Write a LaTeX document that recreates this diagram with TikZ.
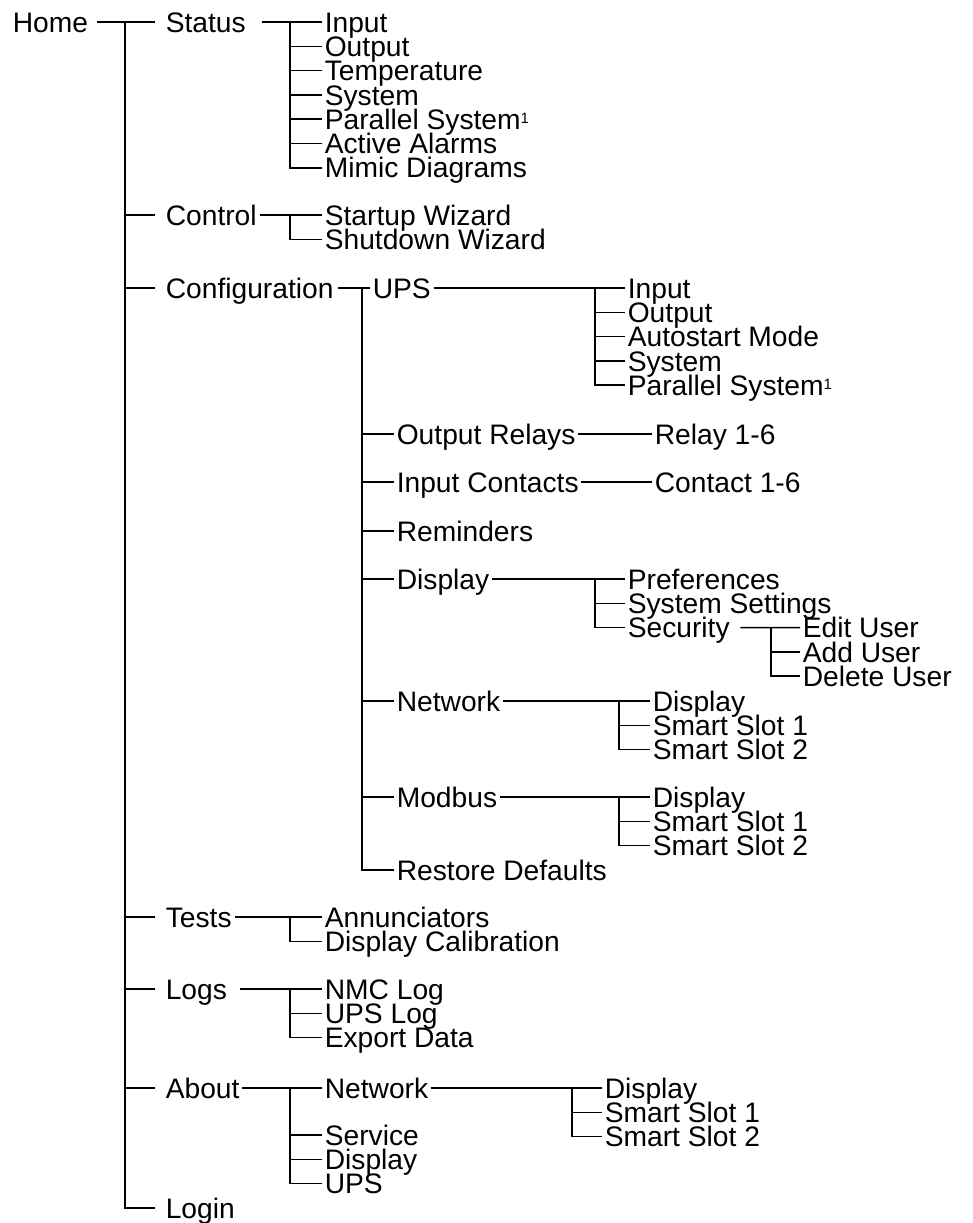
\documentclass[tikz,border=0pt]{standalone}
\usepackage{fontspec}
\setmainfont{Liberation Sans}
\usetikzlibrary{positioning}

\newcommand{\fnote}{\raisebox{3pt}{\fontsize{7.5pt}{8pt}\selectfont 1}}

\begin{document}
\begin{tikzpicture}[x=0.5pt, y=-0.5pt, node distance=12.15pt, line width=0.8pt,
    every node/.style={anchor=west, inner xsep=1pt, inner ysep=0pt, text height=10.1pt, text depth=0pt, font=\fontsize{14.1pt}{14pt}\selectfont},
    sub/.style={below=of #1.west, anchor=west}]
    \useasboundingbox (0,0) rectangle (973,1223);

    % bar positions
    \coordinate (trunk) at (125,0);
    \coordinate (sbar) at (290,0);
    \coordinate (cbar) at (362,0);
    \coordinate (ubar) at (595,0);
    \coordinate (secbar) at (771,0);
    \coordinate (nbar) at (619,0);
    \coordinate (abar) at (572,0);

    \node (home) at (10,22) {Home};

    % Status
    \node (status) at (163,22) {Status};
    \node (input) at (322,22) {Input};
    \node (output) [sub=input] {Output};
    \node (temp) [sub=output] {Temperature};
    \node (sys) [sub=temp] {System};
    \node (par) [sub=sys] {Parallel System\fnote};
    \node (alarms) [sub=par] {Active Alarms};
    \node (mimic) [sub=alarms] {Mimic Diagrams};

    % Control
    \node (control) at (163,215) {Control};
    \node (startup) at (322,215) {Startup Wizard};
    \node (shutdown) [sub=startup] {Shutdown Wizard};

    % Configuration
    \node (config) at (163,288) {Configuration};
    \node (ups) at (370,288) {UPS};
    \node (upsin) at (625,288) {Input};
    \node (upsout) [sub=upsin] {Output};
    \node (autostart) [sub=upsout] {Autostart Mode};
    \node (upssys) [sub=autostart] {System};
    \node (upspar) [sub=upssys] {Parallel System\fnote};
    \node (relays) at (394,434) {Output Relays};
    \node (relay) at (652,434) {Relay 1-6};
    \node (contacts) at (394,482) {Input Contacts};
    \node (contact) at (652,482) {Contact 1-6};
    \node (remind) at (394,531) {Reminders};
    \node (disp) at (394,579) {Display};
    \node (pref) at (625,579) {Preferences};
    \node (sysset) [sub=pref] {System Settings};
    \node (secur) [sub=sysset] {Security};
    \node (edit) at (800,627.6) {Edit User};
    \node (add) [sub=edit] {Add User};
    \node (delete) [sub=add] {Delete User};
    \node (network) at (394,701) {Network};
    \node (ndisp) at (650,701) {Display};
    \node (nslot1) [sub=ndisp] {Smart Slot 1};
    \node (nslot2) [sub=nslot1] {Smart Slot 2};
    \node (modbus) at (394,797) {Modbus};
    \node (mdisp) at (650,797) {Display};
    \node (mslot1) [sub=mdisp] {Smart Slot 1};
    \node (mslot2) [sub=mslot1] {Smart Slot 2};
    \node (restore) at (394,870) {Restore Defaults};

    % Tests, Logs
    \node (tests) at (163,917) {Tests};
    \node (annun) at (322,917) {Annunciators};
    \node (calib) [sub=annun] {Display Calibration};
    \node (logs) at (163,989) {Logs};
    \node (nmc) at (322,989) {NMC Log};
    \node (upslog) [sub=nmc] {UPS Log};
    \node (export) [sub=upslog] {Export Data};

    % About, Login
    \node (about) at (163,1088) {About};
    \node (anet) at (322,1088) {Network};
    \node (service) at (322,1135) {Service};
    \node (adisp) [sub=service] {Display};
    \node (aups) [sub=adisp] {UPS};
    \node (andisp) at (602,1088) {Display};
    \node (aslot1) [sub=andisp] {Smart Slot 1};
    \node (aslot2) [sub=aslot1] {Smart Slot 2};
    \node (login) at (163,1208) {Login};

    % trunk
    \draw ([xshift=3pt]home.east) -- ([xshift=-4pt]status.west);
    \draw (trunk |- status.west) |- ([xshift=-4pt]login.west);
    \foreach \n in {control,config,tests,logs,about}
        \draw (trunk |- \n.west) -- ([xshift=-4pt]\n.west);

    % Status
    \draw ([xshift=6.5pt]status.east) -- (input.west);
    \draw (sbar |- input.west) |- (mimic.west);
    \foreach \n in {output,temp,sys,par,alarms}
        \draw (sbar |- \n.west) -- (\n.west);

    % Control
    \draw (control.east) -- (startup.west);
    \draw (sbar |- startup.west) |- (shutdown.west);

    % Configuration
    \draw ([xshift=1pt]config.east) -- (ups.west);
    \draw (cbar |- ups.west) |- (restore.west);
    \foreach \n in {relays,contacts,remind,disp,network,modbus}
        \draw (cbar |- \n.west) -- (\n.west);
    \draw (ups.east) -- (upsin.west);
    \draw (ubar |- upsin.west) |- (upspar.west);
    \foreach \n in {upsout,autostart,upssys}
        \draw (ubar |- \n.west) -- (\n.west);
    \draw (relays.east) -- (relay.west);
    \draw (contacts.east) -- (contact.west);
    \draw (disp.east) -- (pref.west);
    \draw (ubar |- pref.west) |- (secur.west);
    \draw (ubar |- sysset.west) -- (sysset.west);
    \draw ([xshift=4pt]secur.east) -- (edit.west);
    \draw (secbar |- edit.west) |- (delete.west);
    \draw (secbar |- add.west) -- (add.west);
    \draw (network.east) -- (ndisp.west);
    \draw (nbar |- ndisp.west) |- (nslot2.west);
    \draw (nbar |- nslot1.west) -- (nslot1.west);
    \draw (modbus.east) -- (mdisp.west);
    \draw (nbar |- mdisp.west) |- (mslot2.west);
    \draw (nbar |- mslot1.west) -- (mslot1.west);

    % Tests, Logs
    \draw ([xshift=0.5pt]tests.east) -- (annun.west);
    \draw (sbar |- annun.west) |- (calib.west);
    \draw ([xshift=5pt]logs.east) -- (nmc.west);
    \draw (sbar |- nmc.west) |- (export.west);
    \draw (sbar |- upslog.west) -- (upslog.west);

    % About
    \draw (about.east) -- (anet.west);
    \draw (sbar |- anet.west) |- (aups.west);
    \foreach \n in {service,adisp}
        \draw (sbar |- \n.west) -- (\n.west);
    \draw (anet.east) -- (andisp.west);
    \draw (abar |- andisp.west) |- (aslot2.west);
    \draw (abar |- aslot1.west) -- (aslot1.west);
\end{tikzpicture}
\end{document}
